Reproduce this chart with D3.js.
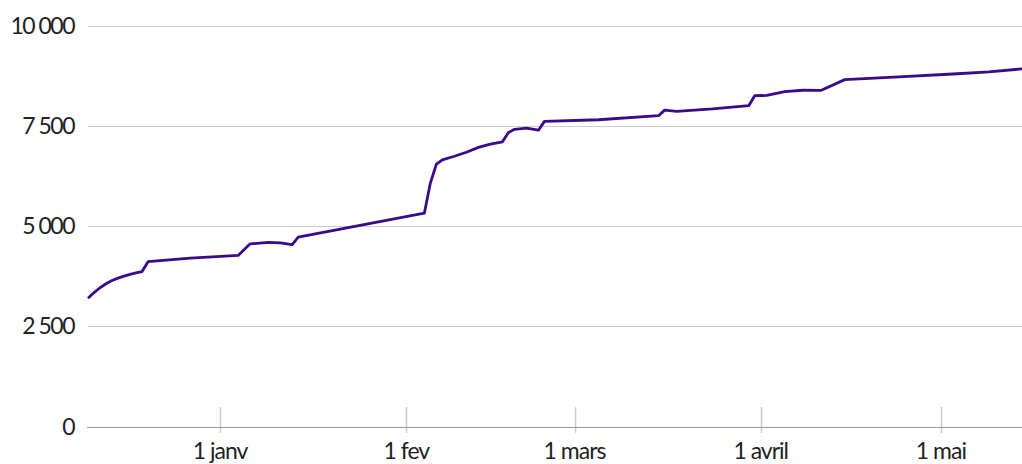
<!DOCTYPE html>
<html>
<head>
<meta charset="utf-8">
<script src="https://cdn.jsdelivr.net/npm/d3@7"></script>
<style>
  html, body { margin: 0; padding: 0; background: #fff; }
  svg { display: block; }
  text { font-family: "Lato", "Open Sans", sans-serif; fill: #222; }
</style>
</head>
<body>
<svg id="chart" width="1022" height="464"></svg>
<script>
// ---- data ----
const dates = [
  "2020-12-10","2020-12-11","2020-12-12","2020-12-13","2020-12-14","2020-12-15",
  "2020-12-16","2020-12-17","2020-12-18","2020-12-19","2020-12-20","2020-12-27",
  "2021-01-04","2021-01-06","2021-01-09","2021-01-11","2021-01-13","2021-01-14",
  "2021-02-04","2021-02-05","2021-02-06","2021-02-07","2021-02-09","2021-02-11",
  "2021-02-13","2021-02-15","2021-02-17","2021-02-18","2021-02-19","2021-02-21",
  "2021-02-23","2021-02-24","2021-03-05","2021-03-15","2021-03-16","2021-03-18",
  "2021-03-24","2021-03-30","2021-03-31","2021-04-02","2021-04-05","2021-04-08",
  "2021-04-11","2021-04-15","2021-04-24","2021-05-03","2021-05-09","2021-05-15"
];
const values = [
  3200, 3340, 3460, 3560, 3640, 3700,
  3750, 3795, 3830, 3865, 4110, 4200,
  4265, 4555, 4590, 4580, 4535, 4720,
  5320, 6070, 6540, 6650, 6740, 6840,
  6960, 7040, 7100, 7330, 7410, 7440,
  7390, 7610, 7650, 7750, 7890, 7860,
  7920, 8000, 8250, 8255, 8350, 8385,
  8380, 8650, 8720, 8790, 8845, 8925
];
const yTicks = [0, 2500, 5000, 7500, 10000];
const yTickLabels = ["0", "2 500", "5 000", "7 500", "10 000"];
const xTickDates = ["2021-01-01", "2021-02-01", "2021-03-01", "2021-04-01", "2021-05-01"];
const xTickLabels = ["1 janv", "1 fev", "1 mars", "1 avril", "1 mai"];

// ---- drawing ----
(function () {
const parse = d3.timeParse("%Y-%m-%d");
const data = dates.map((d, i) => ({ date: parse(d), value: values[i] }));

const svg = d3.select("#chart");
const mLeft = 88, mRight = 1022, mTop = 25.5, mBottom = 426.5;

const x = d3.scaleTime()
  .domain([parse("2020-12-10"), parse("2021-05-15")])
  .range([mLeft, 1025]);
const y = d3.scaleLinear().domain([0, 10000]).range([mBottom, mTop]);

// gridlines
svg.append("g").selectAll("line")
  .data(yTicks.filter(t => t !== 0))
  .join("line")
  .attr("x1", mLeft).attr("x2", mRight)
  .attr("y1", d => Math.round(y(d)) + 0.5).attr("y2", d => Math.round(y(d)) + 0.5)
  .attr("stroke", "#cccccc").attr("stroke-width", 1.2);

// x ticks
svg.append("g").selectAll("line")
  .data(xTickDates)
  .join("line")
  .attr("x1", d => Math.round(x(parse(d))) + 0.5)
  .attr("x2", d => Math.round(x(parse(d))) + 0.5)
  .attr("y1", 407).attr("y2", 433)
  .attr("stroke", "#cccccc").attr("stroke-width", 1.5);

// baseline
svg.append("line")
  .attr("x1", mLeft - 1).attr("x2", mRight)
  .attr("y1", Math.round(y(0)) + 0.5).attr("y2", Math.round(y(0)) + 0.5)
  .attr("stroke", "#999999").attr("stroke-width", 1.2);

// y labels
svg.append("g").selectAll("text")
  .data(yTicks)
  .join("text")
  .attr("x", 74)
  .attr("y", d => y(d) + 8)
  .attr("text-anchor", "end")
  .style("font-size", "23px")
  .style("letter-spacing", "-1.5px")
  .text((d, i) => yTickLabels[i]);

// x labels
svg.append("g").selectAll("text")
  .data(xTickDates)
  .join("text")
  .attr("x", d => x(parse(d)))
  .attr("y", 459)
  .attr("text-anchor", "middle")
  .style("font-size", "23px")
  .style("letter-spacing", "-1px")
  .text((d, i) => xTickLabels[i]);

// line
const line = d3.line()
  .x(d => x(d.date))
  .y(d => y(d.value))
  .curve(d3.curveLinear);

svg.append("path")
  .datum(data)
  .attr("fill", "none")
  .attr("stroke", "#3b0a8a")
  .attr("stroke-width", 2.8)
  .attr("stroke-linejoin", "round")
  .attr("d", line);
})();
</script>
</body>
</html>
